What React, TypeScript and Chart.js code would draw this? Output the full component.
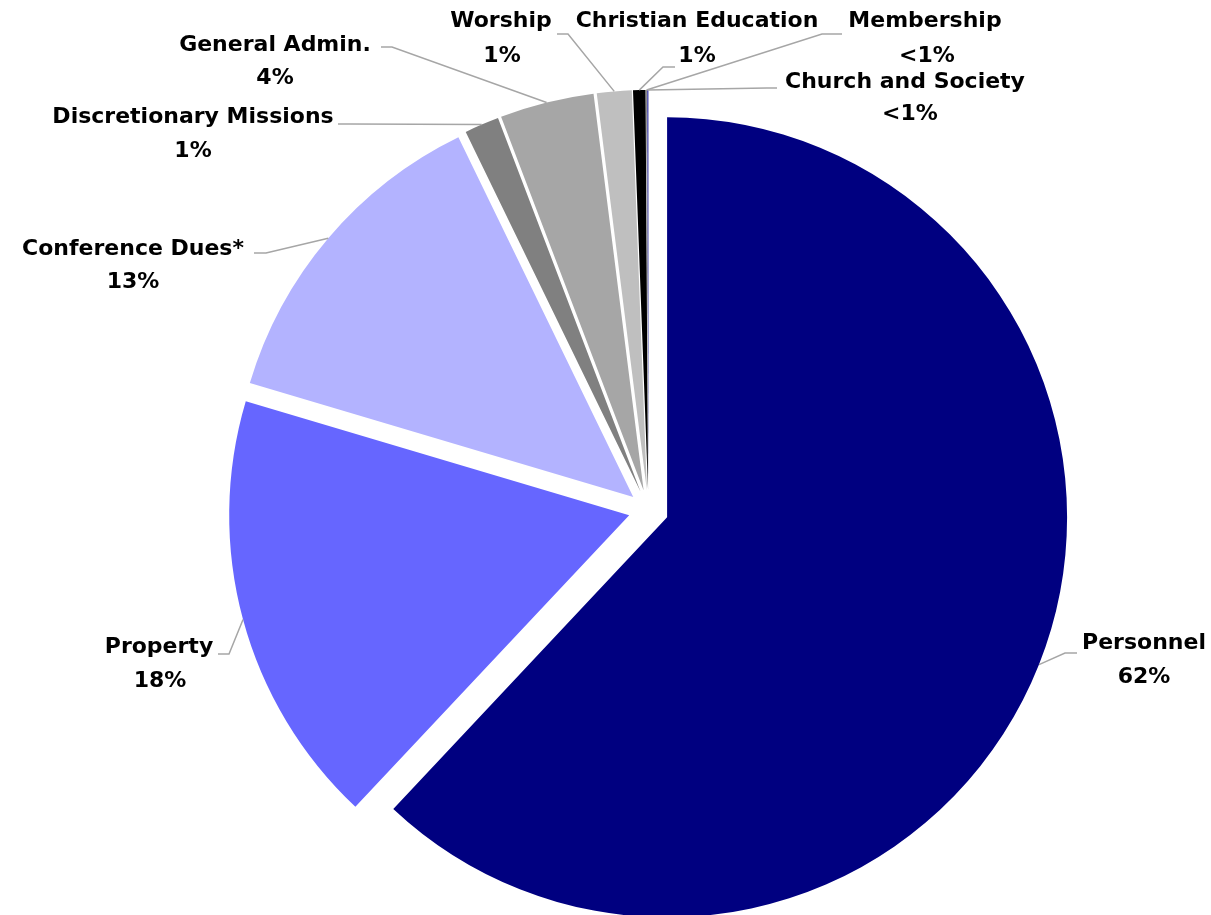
import React, { useEffect, useRef } from "react";
import { Chart, registerables } from "chart.js";

Chart.register(...registerables);

// ---- data ----
const categories = [
  "Personnel",
  "Property",
  "Conference Dues*",
  "Discretionary Missions",
  "General Admin.",
  "Worship",
  "Christian Education",
  "Membership",
  "Church and Society",
];
const values = [62.0, 17.6, 13.2, 1.4, 3.8, 1.4, 0.5, 0.05, 0.05];

// ---- styles ----
const colors = [
  "#000080",
  "#6666FF",
  "#B3B3FF",
  "#808080",
  "#A6A6A6",
  "#BFBFBF",
  "#000000",
  "#8C8C8C",
  "#2E2EA0",
];
const EXPLODE = 20;
const FONT = "bold 22px 'DejaVu Sans'";

// label layout (page pixels): name centre/baseline, pct centre/baseline, leader anchor & elbow
const labelLayout = [
  { x: 1144, y: 649, px: 1144, py: 683, ax: 1077, ay: 653, ex: 1065, ey: 653 },
  { x: 159, y: 653, px: 160, py: 687, ax: 218, ay: 654, ex: 229, ey: 654 },
  { x: 133, y: 255, px: 133, py: 288, ax: 254, ay: 253, ex: 266, ey: 253 },
  { x: 193, y: 123, px: 193, py: 157, ax: 338, ay: 124, ex: 350, ey: 124 },
  { x: 275, y: 51, px: 275, py: 84, ax: 381, ay: 47, ex: 392, ey: 47 },
  { x: 501, y: 27, px: 502, py: 62, ax: 557, ay: 34, ex: 568, ey: 34 },
  { x: 697, y: 27, px: 697, py: 62, ax: 675, ay: 67, ex: 663, ey: 67 },
  { x: 925, y: 27, px: 927, py: 62, ax: 842, ay: 34, ex: 822, ey: 34 },
  { x: 905, y: 88, px: 910, py: 120, ax: 777, ay: 88, ex: 767, ey: 88 },
];

const explodePlugin = {
  id: "explodeSlices",
  afterDatasetsUpdate(chart: any) {
    const meta = chart.getDatasetMeta(0);
    meta.data.forEach((el: any) => {
      const mid = (el.startAngle + el.endAngle) / 2;
      el.x += Math.cos(mid) * EXPLODE;
      el.y += Math.sin(mid) * EXPLODE;
    });
  },
};

const labelPlugin = {
  id: "sliceLabels",
  afterDraw(chart: any) {
    const ctx = chart.ctx as CanvasRenderingContext2D;
    const meta = chart.getDatasetMeta(0);
    const total = values.reduce((a, b) => a + b, 0);
    ctx.save();
    meta.data.forEach((el: any, i: number) => {
      const L = labelLayout[i];
      const mid = (el.startAngle + el.endAngle) / 2;
      const tx = el.x + Math.cos(mid) * el.outerRadius;
      const ty = el.y + Math.sin(mid) * el.outerRadius;
      ctx.strokeStyle = "#A6A6A6";
      ctx.lineWidth = 1.5;
      ctx.beginPath();
      ctx.moveTo(L.ax, L.ay);
      ctx.lineTo(L.ex, L.ey);
      ctx.lineTo(tx, ty);
      ctx.stroke();

      ctx.fillStyle = "#000000";
      ctx.font = FONT;
      ctx.textAlign = "center";
      ctx.textBaseline = "alphabetic";
      ctx.fillText(categories[i], L.x, L.y);
      const pct = (values[i] / total) * 100;
      const txt = pct < 0.5 ? "<1%" : Math.round(pct) + "%";
      ctx.fillText(txt, L.px, L.py);
    });
    ctx.restore();
  },
};

export default function App() {
  const ref = useRef<HTMLCanvasElement | null>(null);
  useEffect(() => {
    if (!ref.current) return;
    const chart = new Chart(ref.current, {
      type: "pie",
      data: {
        labels: categories,
        datasets: [
          {
            data: values,
            backgroundColor: colors,
            borderWidth: 0,
            clip: false as any,
          },
        ],
      },
      options: {
        animation: false,
        responsive: false,
        events: [],
        radius: 400,
        layout: { padding: { left: 86, right: 0, top: 105, bottom: 0 } },
        plugins: {
          legend: { display: false },
          tooltip: { enabled: false },
        },
      } as any,
      plugins: [explodePlugin, labelPlugin],
    });
    return () => chart.destroy();
  }, []);
  return (
    <div style={{ position: "fixed", left: 0, top: 0, width: 1211, height: 915, background: "#fff" }}>
      <canvas ref={ref} width={1211} height={915} style={{ display: "block" }} />
    </div>
  );
}
